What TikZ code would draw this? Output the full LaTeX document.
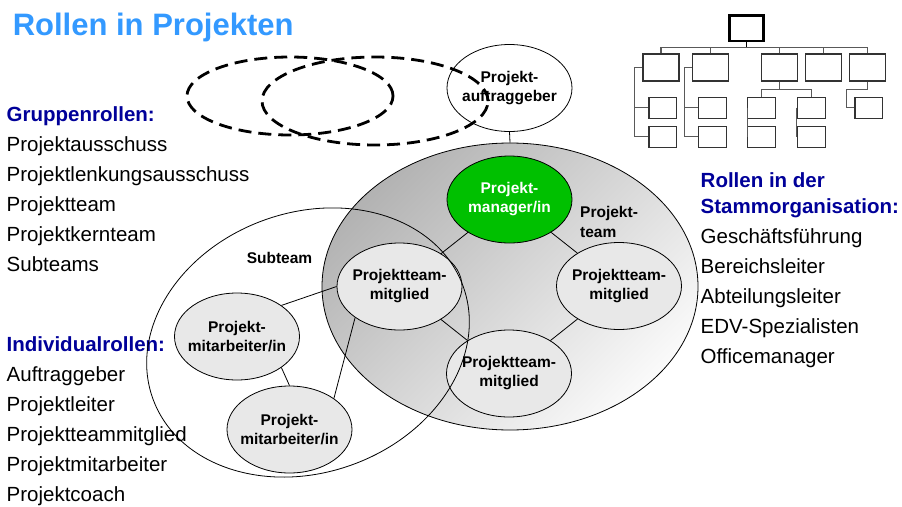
\documentclass[tikz,border=0pt]{standalone}
\usepackage{fontspec}
\setmainfont{Liberation Sans}
\usetikzlibrary{shapes.geometric}
\definecolor{titleblue}{RGB}{51,153,255}
\definecolor{headblue}{RGB}{0,0,153}
\definecolor{pmgreen}{RGB}{0,192,0}
\definecolor{rolefill}{RGB}{232,232,232}
\begin{document}
\begin{tikzpicture}[x=1pt,y=-1pt,
  role/.style={ellipse, draw, line width=0.8pt, fill=rolefill,
    minimum width=125pt, minimum height=87pt, inner xsep=-5pt, inner ysep=0pt,
    align=center, font=\fontsize{15.5}{19}\selectfont\bfseries},
  lead/.style={role, fill=pmgreen, text=white},
  sponsor/.style={role, fill=white},
  listtext/.style={anchor=base west, align=left, inner sep=0pt,
    font=\fontsize{20.5}{30}\selectfont},
  tag/.style={inner sep=0pt, align=left, font=\fontsize{15.5}{19.6}\selectfont\bfseries},
  link/.style={line width=0.8pt},
  groupring/.style={line width=2.8pt, dash pattern=on 13pt off 7pt},
  orgbox/.style={draw=black!80, line width=1.1pt, fill=white,
    minimum width=36pt, minimum height=27pt, inner sep=0pt},
  orgsub/.style={orgbox, minimum width=27.7pt, minimum height=21.3pt},
  orgline/.style={draw=black!65, line width=1.1pt}
]
\useasboundingbox (0,0) rectangle (902,506);

% heading
\node[anchor=base west, inner sep=0pt, text=titleblue,
  font=\fontsize{31}{36}\selectfont\bfseries] (title) at (12.6,35) {Rollen in Projekten};

% role lists (placed by the baseline of their last line)
\node[listtext] (grp) at (6.5,271) {{\color{headblue}\bfseries Gruppenrollen:}\\
  Projektausschuss\\Projektlenkungsausschuss\\Projektteam\\Projektkernteam\\Subteams};
\node[listtext] (ind) at (6.5,501) {{\color{headblue}\bfseries Individualrollen:}\\
  Auftraggeber\\Projektleiter\\Projektteammitglied\\Projektmitarbeiter\\Projektcoach};
\node[listtext] (line) at (700.5,363) {{\color{headblue}\bfseries Rollen in der}\\[-4.5pt]
  {\color{headblue}\bfseries Stammorganisation:}\\
  Geschäftsführung\\Bereichsleiter\\Abteilungsleiter\\EDV-Spezialisten\\Officemanager};

% project team area
\node[ellipse, draw, line width=0.8pt, minimum width=376pt, minimum height=287pt,
  inner sep=0pt, top color=black!30, bottom color=black!2, shading angle=45]
  (team) at (510,286.5) {};

\node[sponsor] (auft) at (509.5,88) {Projekt-\\auftraggeber};
\node[lead] (mgr) at (509.5,199.5) {Projekt-\\manager/in};
\node[role] (ptm1) at (399.5,286.5) {Projektteam-\\mitglied};
\node[role] (ptm2) at (619,286) {Projektteam-\\mitglied};
\node[role] (ptm3) at (509,373.5) {Projektteam-\\mitglied};
\node[role] (ma1) at (237,336.5) {Projekt-\\mitarbeiter/in};
\node[role] (ma2) at (289.5,429.5) {Projekt-\\mitarbeiter/in};

\node[tag, anchor=base west] (teamtag) at (580,237.3) {Projekt-\\team};
\node[tag, anchor=base] (subtag) at (279.5,263.3) {Subteam};

% connectors
\draw[link] (auft.south) -- (team.north);
\draw[link] (mgr) -- (ptm1);
\draw[link] (mgr) -- (ptm2);
\draw[link] (ptm1) -- (ptm3);
\draw[link] (ptm2) -- (ptm3);
\draw[link] (ptm1.west) -- (ma1.35);
\draw[link] (ma1.-35) -- (ma2.north);
\draw[link] (ptm1.-145) -- (ma2.35);

% subteam outline
\node[ellipse, draw, line width=0.8pt, minimum width=330pt, minimum height=260pt,
  inner sep=0pt, rotate=20] (sub) at (308,342.5) {};

% committees
\draw[groupring] (290,96) ellipse [x radius=103pt, y radius=39pt];
\draw[groupring] (375,101) ellipse [x radius=113pt, y radius=44pt];

% organisation chart icon
\node[orgbox, draw=black, line width=2.6pt, minimum width=34pt, minimum height=25.5pt]
  (o0) at (746.6,28.3) {};
\node[orgbox] (o1) at (661,67.5) {};
\node[orgbox] (o2) at (710.5,67.5) {};
\node[orgbox] (o3) at (779.5,67.5) {};
\node[orgbox] (o4) at (823.5,67.5) {};
\node[orgbox] (o5) at (867.5,67.5) {};
\node[orgsub] (o11) at (662.8,107.7) {};
\node[orgsub] (o12) at (662.8,136.7) {};
\node[orgsub] (o21) at (712.2,107.7) {};
\node[orgsub] (o22) at (712.2,136.7) {};
\node[orgsub] (o31) at (761.7,107.7) {};
\node[orgsub] (o32) at (761.7,136.7) {};
\node[orgsub] (o33) at (811.2,107.7) {};
\node[orgsub] (o34) at (811.2,136.7) {};
\node[orgsub] (o51) at (868.8,107.7) {};

\coordinate (bus) at (746.6,47.7);
\draw[orgline, draw=black] (o0.south) -- (bus);
\draw[orgline] (o1.north) |- (bus) -| (o5.north);
\foreach \k in {2,3,4} \draw[orgline] (o\k.north) -- (o\k.north |- bus);
\draw[orgline] (o1.west) -- ++(-8,0) coordinate (k1) |- (o12.west);
\draw[orgline] (k1 |- o11.west) -- (o11.west);
\draw[orgline] (o2.west) -- ++(-7.5,0) coordinate (k2) |- (o22.west);
\draw[orgline] (k2 |- o21.west) -- (o21.west);
\draw[orgline] (o3.south) -- ++(0,8.3) coordinate (k3);
\draw[orgline] (o31.north) |- (k3) -| (o33.north);
\draw[orgline] (o31.west) -- (o32.west);
\draw[orgline] (o33.west) -- (o34.west);
\draw[orgline] (o5.south) -- ++(0,8.3) -- ++(-20.8,0) |- (o51.west);
\end{tikzpicture}
\end{document}
